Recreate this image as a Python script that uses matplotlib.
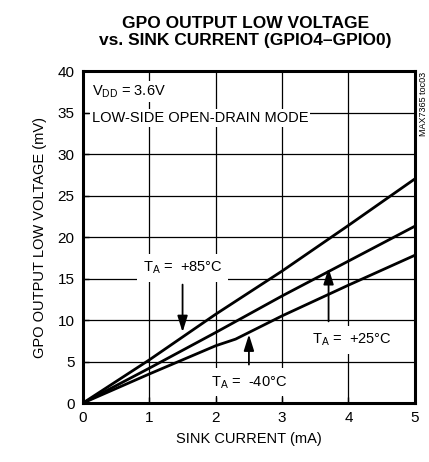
import matplotlib
matplotlib.use("Agg")
import matplotlib.pyplot as plt
from matplotlib import font_manager as fm

names = {f.name for f in fm.fontManager.ttflist}
fam = "Liberation Sans Narrow" if "Liberation Sans Narrow" in names else "Liberation Sans"
plt.rcParams['font.family'] = [fam, 'DejaVu Sans']
plt.rcParams['mathtext.fontset'] = 'custom'
plt.rcParams['mathtext.rm'] = fam

current = [0, 1, 2, 3, 4, 5]
v_85 = [0, 5.2, 10.7, 15.9, 21.4, 27.0]
v_25 = [0, 4.2, 8.5, 12.9, 17.1, 21.3]
v_m40_x = [0, 1, 2, 2.3, 3, 4, 5]
v_m40 = [0, 3.5, 6.9, 7.7, 10.5, 14.2, 17.8]
xticks = [0, 1, 2, 3, 4, 5]
yticks = [0, 5, 10, 15, 20, 25, 30, 35, 40]

fig = plt.figure(figsize=(4.29, 4.62), dpi=100)
ax = fig.add_axes([0.1935, 0.1277, 0.7735, 0.7186])
ax.set_xlim(0, 5)
ax.set_ylim(0, 40)
ax.set_xticks(xticks)
ax.set_yticks(yticks)
ax.grid(True, color='black', linewidth=0.9, zorder=1)
for s in ax.spines.values():
    s.set_linewidth(2.2)
ax.tick_params(direction='in', length=4, width=1, labelsize=11, pad=6)

for x, y in [(current, v_85), (current, v_25), (v_m40_x, v_m40)]:
    ax.plot(x, y, color='black', linewidth=2, zorder=3, solid_capstyle='butt')

fs = 10.5
box = dict(facecolor='white', edgecolor='none', pad=1.5)
ax.text(0.13, 37.5, "V$_{\\rm DD}$ = 3.6V", fontsize=fs, va='center', ha='left', bbox=box, zorder=4)
ax.text(0.13, 34.3, "LOW-SIDE OPEN-DRAIN MODE", fontsize=fs, va='center', ha='left', bbox=box, zorder=4)

lbox = dict(facecolor='white', edgecolor='none', pad=4)
ax.text(1.5, 16.3, "T$_{\\rm A}$ =  +85°C", fontsize=fs, va='center', ha='center', bbox=lbox, zorder=4)
ax.text(4.05, 7.6, "T$_{\\rm A}$ =  +25°C", fontsize=fs, va='center', ha='center', bbox=lbox, zorder=4)
ax.text(2.5, 2.5, "T$_{\\rm A}$ =  -40°C", fontsize=fs, va='center', ha='center', bbox=lbox, zorder=4)

ap = dict(arrowstyle='-|>,head_length=0.7,head_width=0.22', color='black', lw=1.3, mutation_scale=14)
ax.annotate("", xy=(1.5, 8.2), xytext=(1.5, 14.6), arrowprops=ap, zorder=5)
ax.annotate("", xy=(3.7, 16.6), xytext=(3.7, 9.5), arrowprops=ap, zorder=5)
ax.annotate("", xy=(2.5, 8.6), xytext=(2.5, 4.3), arrowprops=ap, zorder=5)

ax.set_xlabel("SINK CURRENT (mA)", fontsize=fs, labelpad=5)
ax.set_ylabel("GPO OUTPUT LOW VOLTAGE (mV)", fontsize=fs, labelpad=8)

fig.text(0.572, 0.965, "GPO OUTPUT LOW VOLTAGE\nvs. SINK CURRENT (GPIO4\u2013GPIO0)", ha='center', va='top',
         fontsize=12.5, fontweight='bold', linespacing=1.15)
fig.text(0.988, 0.845, "MAX7365 toc03", rotation=90, ha='center', va='top', fontsize=6.5)

fig.savefig("out.png", dpi=100)
